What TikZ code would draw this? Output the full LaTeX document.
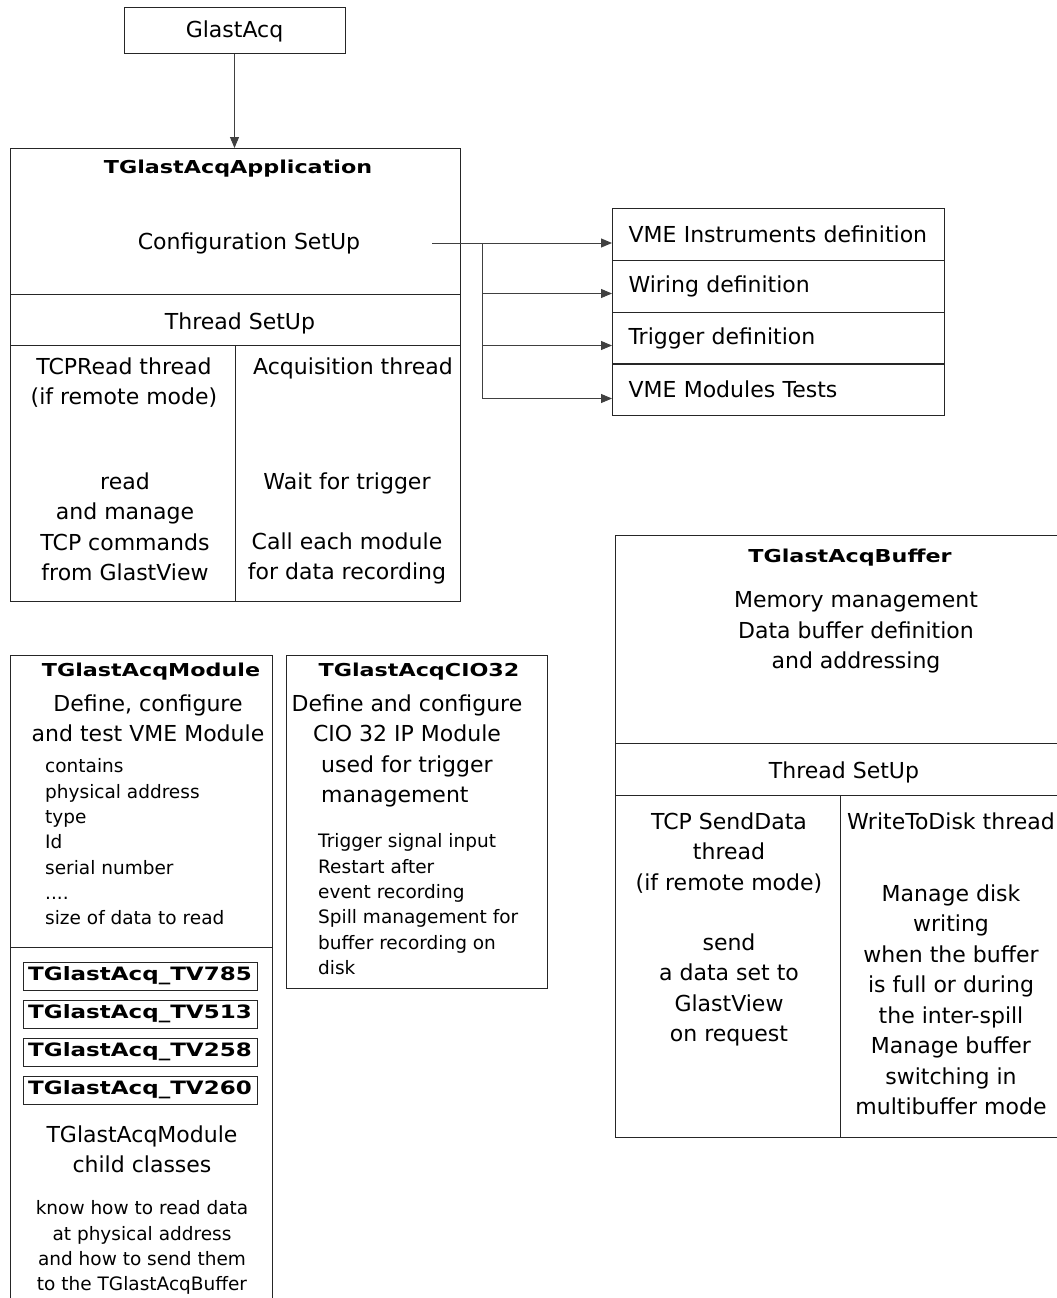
\documentclass[tikz,border=0pt]{standalone}
\usepackage{fontspec}
\setmainfont{DejaVu Sans}
\newfontfamily\TitleFont{DejaVu Sans}[FakeStretch=1.25]
\usetikzlibrary{arrows.meta}
\newcommand\MainSz{\fontsize{22}{30.5}\selectfont}
\newcommand\SmallSz{\fontsize{18.5}{25.3}\selectfont}
\newcommand\TtlSz{\TitleFont\bfseries\fontsize{17.8}{20}\selectfont}
\newcommand\ChildSz{\TitleFont\bfseries\fontsize{18.4}{20}\selectfont}
\begin{document}
\begin{tikzpicture}[x=1pt,y=-1pt,
  box/.style={draw=black!85,line width=1pt,inner sep=0pt},
  ln/.style={draw=black!85,line width=1pt},
  conn/.style={draw=black!75,line width=1pt},
  arr/.style={conn,-{Triangle[length=11pt,width=9pt]}},
  mt/.style={font=\MainSz,align=center,inner sep=0pt,anchor=north},
  mtl/.style={font=\MainSz,align=left,inner sep=0pt,anchor=north west},
  st/.style={font=\SmallSz,align=left,inner sep=0pt,anchor=north west},
  stc/.style={font=\SmallSz,align=center,inner sep=0pt,anchor=north},
  ttl/.style={font=\TtlSz,inner sep=0pt,anchor=base},
  one/.style={font=\MainSz,inner sep=0pt,anchor=base},
  row/.style={box,minimum width=332pt,minimum height=52pt,text width=300pt,inner xsep=16pt,align=left,font=\MainSz,anchor=north west},
  child/.style={box,minimum width=234pt,minimum height=28pt,font=\ChildSz}
]
\useasboundingbox (0,0) rectangle (1057,1298);

% GlastAcq and application frame
\node[box,minimum width=221pt,minimum height=46pt,font=\MainSz] (glast) at (234.5,31) {GlastAcq};
\node[box,minimum width=450pt,minimum height=453pt,anchor=north west] (app) at (10,148) {};
\draw[arr] (glast.south) -- (glast.south |- app.north);
\draw[ln] (10,294) -- (460,294);
\draw[ln] (10,345) -- (460,345);
\draw[ln] (235,345) -- (235,601);

\node[ttl] (appT) at (238,173.5) {TGlastAcqApplication};
\node[one] (cfg) at (249,249) {Configuration SetUp};
\node[one] (appTS) at (240,329) {Thread SetUp};
\node[mt] (tcpr) at (124,357.3) {TCPRead thread\\(if remote mode)};
\node[mt] (rdm) at (125,472.3) {read\\and manage\\TCP commands\\from GlastView};
\node[one] (acqt) at (353,374) {Acquisition thread};
\node[one] (wait) at (347,489) {Wait for trigger};
\node[mt] (call) at (347,532.3) {Call each module\\for data recording};

% configuration list
\node[row] (vme) at (612,208) {VME Instruments definition};
\node[row] (wiring) at (612,260) {Wiring definition};
\node[row] (trig) at (612,312) {Trigger definition};
\node[row] (tests) at (612,363) {VME Modules Tests};

\coordinate (cfgout) at (432,243);
\coordinate (split) at (482,243);
\draw[arr] (cfgout) -- (cfgout -| vme.west);
\draw[arr] (split) |- ([yshift=-7pt]wiring.west);
\draw[arr] (split) |- ([yshift=-7pt]trig.west);
\draw[arr] (split) |- ([yshift=-9pt]tests.west);

% module
\node[box,minimum width=262pt,minimum height=650pt,anchor=north west] (mod) at (10,655) {};
\draw[ln] (10,947) -- (272,947);
\node[ttl] (modT) at (151,676.5) {TGlastAcqModule};
\node[mt] (modD) at (148,694.3) {Define, configure\\and test VME Module};
\node[st] (modL) at (45,758.6) {contains\\physical address\\type\\Id\\serial number\\....\\size of data to read};
\node[child] (tv785) at (140,976) {TGlastAcq\_TV785};
\node[child] (tv513) at (140,1014) {TGlastAcq\_TV513};
\node[child] (tv258) at (140,1052) {TGlastAcq\_TV258};
\node[child] (tv260) at (140,1090) {TGlastAcq\_TV260};
\node[mt] (modC) at (142,1125.3) {TGlastAcqModule\\child classes};
\node[stc] (modK) at (142,1200.6) {know how to read data\\at physical address\\and how to send them\\to the TGlastAcqBuffer};

% CIO32
\node[box,minimum width=261pt,minimum height=333pt,anchor=north west] (cio) at (286,655) {};
\node[ttl] (cioT) at (419,676.5) {TGlastAcqCIO32};
\node[mt] (cioD) at (407,694.3) {Define and configure\\CIO 32 IP Module};
\node[mtl] (cioU) at (321,755.3) {used for trigger\\management};
\node[st] (cioL) at (318,833.6) {Trigger signal input\\Restart after\\event recording\\Spill management for\\buffer recording on\\disk};

% buffer
\node[box,minimum width=450pt,minimum height=602pt,anchor=north west] (buf) at (615,535) {};
\draw[ln] (615,743) -- (1057,743);
\draw[ln] (615,795) -- (1057,795);
\draw[ln] (840,795) -- (840,1137);
\node[ttl] (bufT) at (850,562.5) {TGlastAcqBuffer};
\node[mt] (bufD) at (856,591.3) {Memory management\\Data buffer definition\\and addressing};
\node[one] (bufTS) at (844,778) {Thread SetUp};
\node[mt] (sendT) at (729,812.3) {TCP SendData\\thread\\(if remote mode)};
\node[mt] (sendD) at (729,933.3) {send\\a data set to\\GlastView\\on request};
\node[one] (wdt) at (951,829) {WriteToDisk thread};
\node[mt] (wdD) at (951,884.3) {Manage disk\\writing\\when the buffer\\is full or during\\the inter-spill\\Manage buffer\\switching in\\multibuffer mode};
\end{tikzpicture}
\end{document}
